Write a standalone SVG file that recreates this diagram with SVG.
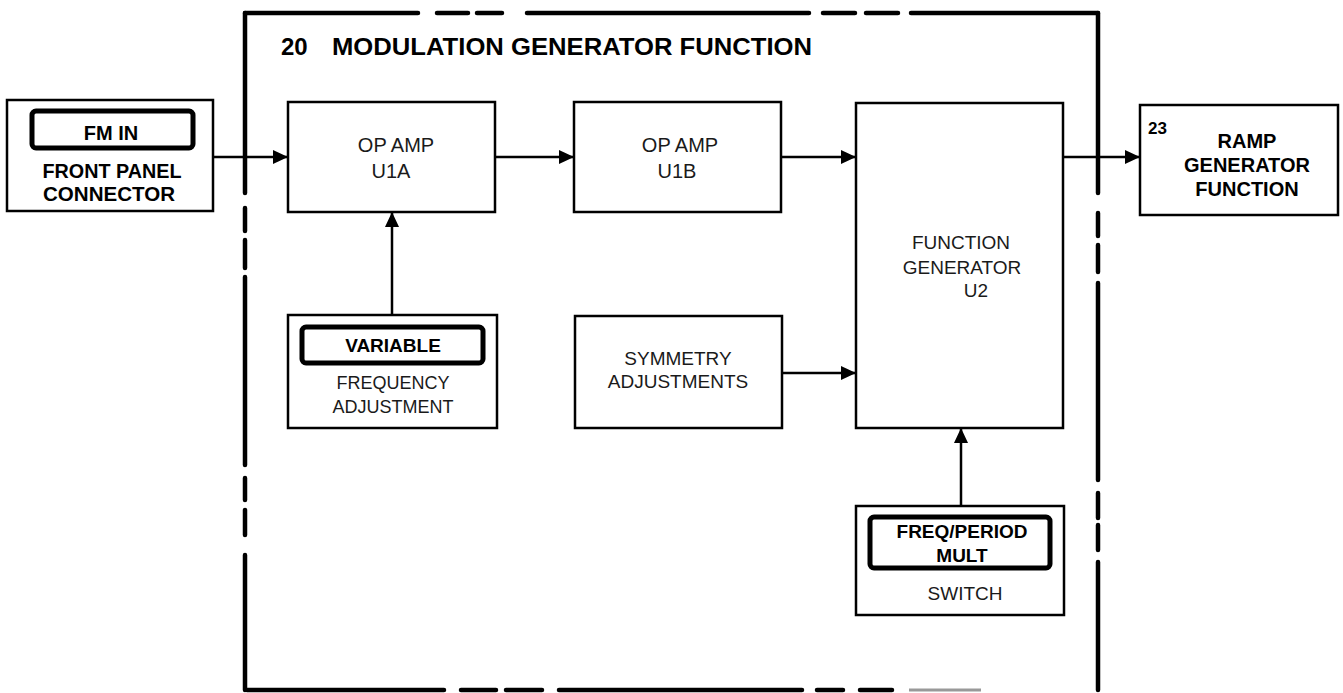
<svg xmlns="http://www.w3.org/2000/svg" width="1343" height="693" viewBox="0 0 1343 693">
<style>
.box{fill:#fff;stroke:#000;stroke-width:2.5}
.knob{fill:none;stroke:#000;stroke-width:5}
.b{font-family:"Liberation Sans",Arial,sans-serif;font-weight:bold;fill:#000}
.l{font-family:"Liberation Sans",Arial,sans-serif;font-weight:normal;fill:#1a1a1a}
.c{text-anchor:middle}
.border{stroke:#000;stroke-width:4.5;fill:none;stroke-linecap:round}
.wire{stroke:#000;stroke-width:2.5;fill:none}
</style>
<defs>
<marker id="ah" markerUnits="userSpaceOnUse" markerWidth="16" markerHeight="16" refX="15" refY="7" orient="auto">
<path d="M0,0 L15,7 L0,14 Z" fill="#000"/>
</marker>
</defs>
<rect width="1343" height="693" fill="#fff"/>

<g id="boundary">
<path class="border" d="M245,13 H418 M437,13 H468 M477,13 H502 M527,13 H809 M823,13 H855 M866,13 H898 M911,13 H1098"/>
<path class="border" d="M245,13 V193 M245,208 V231 M245,240 V268 M245,277 V465 M245,478 V500 M245,510 V535 M245,555 V690"/>
<path class="border" d="M1098,13 V193 M1098,213 V236 M1098,245 V272 M1098,283 V480 M1098,493 V518 M1098,525 V550 M1098,562 V690"/>
<path class="border" d="M247,690 H444 M461,690 H496 M506,690 H542 M559,690 H802 M817,690 H843 M860,690 H892"/>
<path d="M909,690 H981" stroke="#999" stroke-width="3" fill="none"/>
<text class="b" x="281" y="55" font-size="24">20</text>
<text class="b" x="332" y="55" font-size="24" textLength="480" lengthAdjust="spacingAndGlyphs">MODULATION GENERATOR FUNCTION</text>
</g>

<g id="fm-in">
<rect class="box" x="7" y="100" width="206" height="111"/>
<rect class="knob" x="32" y="111" width="161" height="37" rx="4"/>
<text class="b c" x="111" y="140" font-size="20">FM IN</text>
<text class="b c" x="112" y="178" font-size="20" textLength="139" lengthAdjust="spacingAndGlyphs">FRONT PANEL</text>
<text class="b c" x="109" y="201" font-size="20" textLength="132" lengthAdjust="spacingAndGlyphs">CONNECTOR</text>
</g>

<g id="u1a">
<rect class="box" x="288" y="102" width="207" height="110"/>
<text class="l c" x="396" y="152" font-size="20">OP AMP</text>
<text class="l c" x="391" y="178" font-size="20">U1A</text>
</g>

<g id="u1b">
<rect class="box" x="574" y="102" width="207" height="110"/>
<text class="l c" x="680" y="152" font-size="20">OP AMP</text>
<text class="l c" x="677" y="178" font-size="20">U1B</text>
</g>

<g id="u2">
<rect class="box" x="856" y="103" width="207" height="325"/>
<text class="l c" x="961" y="249" font-size="19">FUNCTION</text>
<text class="l c" x="962" y="274" font-size="19">GENERATOR</text>
<text class="l c" x="976" y="297" font-size="19">U2</text>
</g>

<g id="ramp">
<rect class="box" x="1140" y="105" width="198" height="110"/>
<text class="b" x="1148" y="134" font-size="17">23</text>
<text class="b c" x="1247" y="148" font-size="20">RAMP</text>
<text class="b c" x="1247" y="172" font-size="20">GENERATOR</text>
<text class="b c" x="1247" y="196" font-size="20">FUNCTION</text>
</g>

<g id="variable">
<rect class="box" x="288" y="315" width="209" height="113"/>
<rect class="knob" x="302" y="327" width="181" height="36" rx="4"/>
<text class="b c" x="393" y="352" font-size="19">VARIABLE</text>
<text class="l c" x="393" y="389" font-size="18">FREQUENCY</text>
<text class="l c" x="393" y="413" font-size="18">ADJUSTMENT</text>
</g>

<g id="symmetry">
<rect class="box" x="575" y="316" width="207" height="112"/>
<text class="l c" x="678" y="365" font-size="19">SYMMETRY</text>
<text class="l c" x="678" y="388" font-size="19">ADJUSTMENTS</text>
</g>

<g id="switch">
<rect class="box" x="856" y="506" width="208" height="109"/>
<rect class="knob" x="870" y="517" width="180" height="51" rx="4"/>
<text class="b c" x="962" y="538" font-size="19">FREQ/PERIOD</text>
<text class="b c" x="962" y="562" font-size="19">MULT</text>
<text class="l c" x="965" y="600" font-size="19">SWITCH</text>
</g>

<g id="connectors">
<line class="wire" x1="213" y1="157" x2="288" y2="157" marker-end="url(#ah)"/>
<line class="wire" x1="495" y1="157" x2="574" y2="157" marker-end="url(#ah)"/>
<line class="wire" x1="781" y1="157" x2="856" y2="157" marker-end="url(#ah)"/>
<line class="wire" x1="1063" y1="157" x2="1140" y2="157" marker-end="url(#ah)"/>
<line class="wire" x1="392" y1="315" x2="392" y2="212" marker-end="url(#ah)"/>
<line class="wire" x1="782" y1="373" x2="856" y2="373" marker-end="url(#ah)"/>
<line class="wire" x1="961" y1="506" x2="961" y2="428" marker-end="url(#ah)"/>
</g>
</svg>
